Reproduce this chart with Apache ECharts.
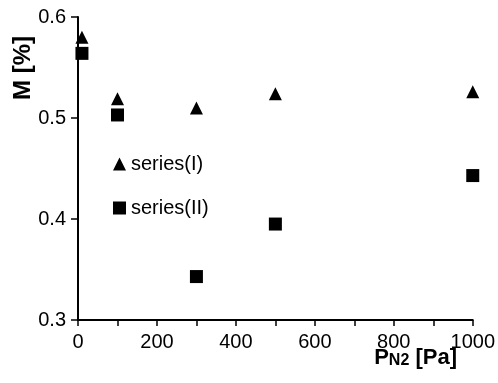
<!DOCTYPE html>
<html><head><meta charset="utf-8">
<script src="https://cdn.jsdelivr.net/npm/echarts@6/dist/echarts.min.js"></script>
<style>html,body{margin:0;padding:0;background:#fff}#c{width:498px;height:383px}</style>
</head><body><div id="c"></div>
<script>
const pressure = [10, 100, 300, 500, 1000];
const seriesI = [0.580, 0.519, 0.510, 0.524, 0.526];
const seriesII = [0.564, 0.503, 0.343, 0.395, 0.443];
const seriesNames = ['series(I)', 'series(II)'];
const xTickLabels = ['0', '200', '400', '600', '800', '1000'];
const yTickLabels = ['0.3', '0.4', '0.5', '0.6'];

const font = 'Liberation Sans, Arial, sans-serif';
const chart = echarts.init(document.getElementById('c'));
chart.setOption({
  animation: false,
  grid: {left: 78, right: 24, top: 17, bottom: 63},
  xAxis: {
    type: 'value', min: 0, max: 1000, interval: 100,
    axisLine: {lineStyle: {color: '#000', width: 2}},
    axisTick: {show: true, length: 6, lineStyle: {color: '#000', width: 1.5}},
    splitLine: {show: false},
    axisLabel: {color: '#000', fontSize: 20, fontFamily: font, margin: 12,
      formatter: v => xTickLabels.indexOf(String(v)) >= 0 ? String(v) : ''}
  },
  yAxis: {
    type: 'value', min: 0.3, max: 0.6, interval: 0.1,
    axisLine: {show: true, lineStyle: {color: '#000', width: 2}},
    axisTick: {show: true, length: 7, lineStyle: {color: '#000', width: 1.5}},
    splitLine: {show: false},
    axisLabel: {color: '#000', fontSize: 20, fontFamily: font, margin: 12,
      formatter: v => { const s = v.toFixed(1); return yTickLabels.indexOf(s) >= 0 ? s : ''; }}
  },
  legend: {
    orient: 'vertical', left: 108, top: 149, itemWidth: 13, itemHeight: 13, itemGap: 24,
    textStyle: {color: '#000', fontSize: 20, fontFamily: font},
    data: [{name: seriesNames[0], icon: 'triangle'}, {name: seriesNames[1], icon: 'rect'}]
  },
  graphic: [
    {type: 'text', x: 23, y: 68, rotation: Math.PI / 2,
      style: {text: 'M [%]', font: 'bold 24px Liberation Sans, Arial, sans-serif', fill: '#000',
        align: 'center', verticalAlign: 'middle'}},
    {type: 'text', x: 457, y: 369,
      style: {text: '{a|P}{b|N2}{a| [Pa]}', align: 'right', verticalAlign: 'bottom', rich: {
        a: {font: 'bold 22px Liberation Sans, Arial, sans-serif', fill: '#000', lineHeight: 22, verticalAlign: 'bottom'},
        b: {font: 'bold 16px Liberation Sans, Arial, sans-serif', fill: '#000', lineHeight: 22, verticalAlign: 'bottom'}
      }}}
  ],
  series: [
    {name: seriesNames[0], type: 'scatter', symbol: 'triangle', symbolSize: 13,
      itemStyle: {color: '#000', opacity: 1}, data: pressure.map((p, i) => [p, seriesI[i]])},
    {name: seriesNames[1], type: 'scatter', symbol: 'rect', symbolSize: 13,
      itemStyle: {color: '#000', opacity: 1}, data: pressure.map((p, i) => [p, seriesII[i]])}
  ]
});
</script></body></html>
